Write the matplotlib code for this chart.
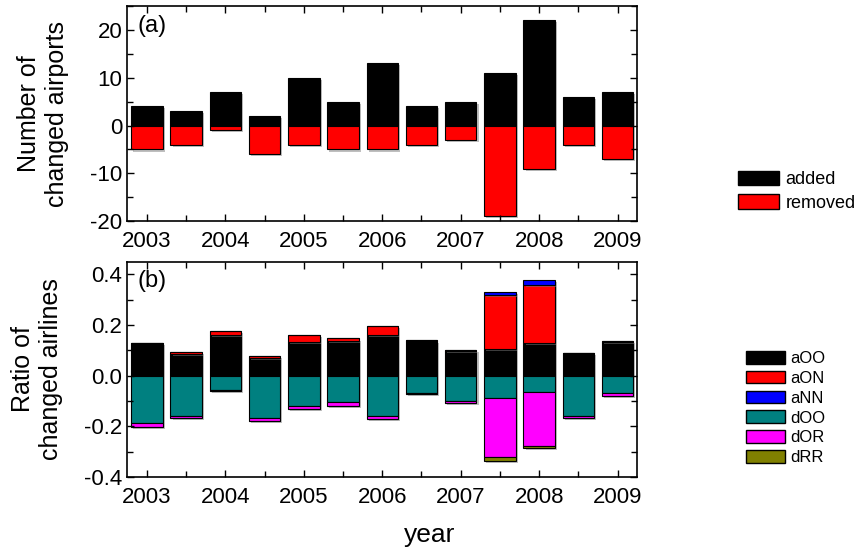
import numpy as np
import matplotlib
matplotlib.use('Agg')
import matplotlib.pyplot as plt
import matplotlib.patheffects as pe
from matplotlib.patches import Patch
from matplotlib.ticker import MultipleLocator, FormatStrFormatter

plt.rcParams['font.family'] = ['Liberation Sans', 'DejaVu Sans']
plt.rcParams['axes.unicode_minus'] = False

# half-year time points
years = [2003, 2003.5, 2004, 2004.5, 2005, 2005.5, 2006, 2006.5,
         2007, 2007.5, 2008, 2008.5, 2009]

# (a) airports
added = [4, 3, 7, 2, 10, 5, 13, 4, 5, 11, 22, 6, 7]
removed = [5, 4, 1, 6, 4, 5, 5, 4, 3, 19, 9, 4, 7]

# (b) airlines ratios
aOO = [0.128, 0.085, 0.160, 0.071, 0.134, 0.136, 0.160, 0.137, 0.097, 0.104, 0.130, 0.088, 0.132]
aON = [0.003, 0.007, 0.017, 0.007, 0.028, 0.011, 0.037, 0.002, 0.004, 0.216, 0.228, 0.003, 0.006]
aNN = [0.0, 0.0, 0.0, 0.0, 0.0, 0.0, 0.0, 0.0, 0.0, 0.012, 0.021, 0.0, 0.0]
dOO = [0.189, 0.159, 0.058, 0.168, 0.118, 0.104, 0.158, 0.067, 0.101, 0.089, 0.063, 0.160, 0.070]
dOR = [0.012, 0.007, 0.004, 0.012, 0.012, 0.014, 0.012, 0.007, 0.008, 0.233, 0.215, 0.006, 0.009]
dRR = [0.0, 0.0, 0.0, 0.0, 0.0, 0.0, 0.0, 0.0, 0.0, 0.016, 0.008, 0.0, 0.0]

x = np.array(years)
w = 0.4
shadow = [pe.SimplePatchShadow(offset=(1.5, -1.5), shadow_rgbFace='gray', alpha=0.5), pe.Normal()]
ekw = dict(edgecolor='black', linewidth=0.8)


def draw_bars(ax, vals, bottom, col):
    bars = ax.bar(x, vals, w, bottom=bottom, color=col, **ekw)
    for b in bars:
        b.set_path_effects(shadow)


fig = plt.figure(figsize=(8.6, 5.5), dpi=100)
ax1 = fig.add_axes([0.148, 0.598, 0.593, 0.391])
ax2 = fig.add_axes([0.148, 0.133, 0.593, 0.391])

# panel a
draw_bars(ax1, added, 0, 'black')
draw_bars(ax1, -np.array(removed), 0, 'red')
ax1.set_ylim(-20, 25)
ax1.yaxis.set_major_locator(MultipleLocator(10))
ax1.yaxis.set_minor_locator(MultipleLocator(5))
ax1.set_ylabel('Number of\nchanged airports', fontsize=18, labelpad=15, linespacing=1.25)
ax1.text(0.02, 0.96, '(a)', transform=ax1.transAxes, fontsize=17, va='top')

# panel b
pos = np.zeros(len(x))
for vals, col in [(aOO, 'black'), (aON, 'red'), (aNN, 'blue')]:
    v = np.array(vals)
    draw_bars(ax2, v, pos.copy(), col)
    pos += v
neg = np.zeros(len(x))
for vals, col in [(dOO, '#008080'), (dOR, 'magenta'), (dRR, '#808000')]:
    v = np.array(vals)
    draw_bars(ax2, -v, neg.copy(), col)
    neg -= v
ax2.set_ylim(-0.4, 0.45)
ax2.yaxis.set_major_locator(MultipleLocator(0.2))
ax2.yaxis.set_minor_locator(MultipleLocator(0.1))
ax2.yaxis.set_major_formatter(FormatStrFormatter('%.1f'))
ax2.set_ylabel('Ratio of\nchanged airlines', fontsize=18, labelpad=15, linespacing=1.25)
ax2.text(0.02, 0.96, '(b)', transform=ax2.transAxes, fontsize=17, va='top')
fig.text(0.5, 0.027, 'year', fontsize=19, ha='center', va='center')

for ax in (ax1, ax2):
    ax.set_xlim(2002.75, 2009.25)
    ax.xaxis.set_major_locator(MultipleLocator(1))
    ax.xaxis.set_minor_locator(MultipleLocator(0.5))
    ax.xaxis.set_major_formatter(FormatStrFormatter('%d'))
    ax.tick_params(which='both', direction='in', top=True, right=True, labelsize=16, width=1)
    ax.tick_params(which='major', length=5)
    ax.tick_params(which='minor', length=4)
    ax.tick_params(axis='x', pad=7)
    for s in ax.spines.values():
        s.set_linewidth(1.2)

h1 = [Patch(facecolor='black', edgecolor='black'), Patch(facecolor='red', edgecolor='black')]
fig.legend(h1, ['added', 'removed'], loc='upper left', bbox_to_anchor=(0.858, 0.69),
           frameon=False, fontsize=13, handlelength=2.3, handleheight=0.85,
           handletextpad=0.35, labelspacing=0.35, borderpad=0, borderaxespad=0)

cols = ['black', 'red', 'blue', '#008080', 'magenta', '#808000']
labs = ['aOO', 'aON', 'aNN', 'dOO', 'dOR', 'dRR']
h2 = [Patch(facecolor=c, edgecolor='black') for c in cols]
fig.legend(h2, labs, loc='upper left', bbox_to_anchor=(0.868, 0.362),
           frameon=False, fontsize=12, handlelength=2.3, handleheight=0.8,
           handletextpad=0.35, labelspacing=0.28, borderpad=0, borderaxespad=0)

fig.savefig('out.png', dpi=100)
